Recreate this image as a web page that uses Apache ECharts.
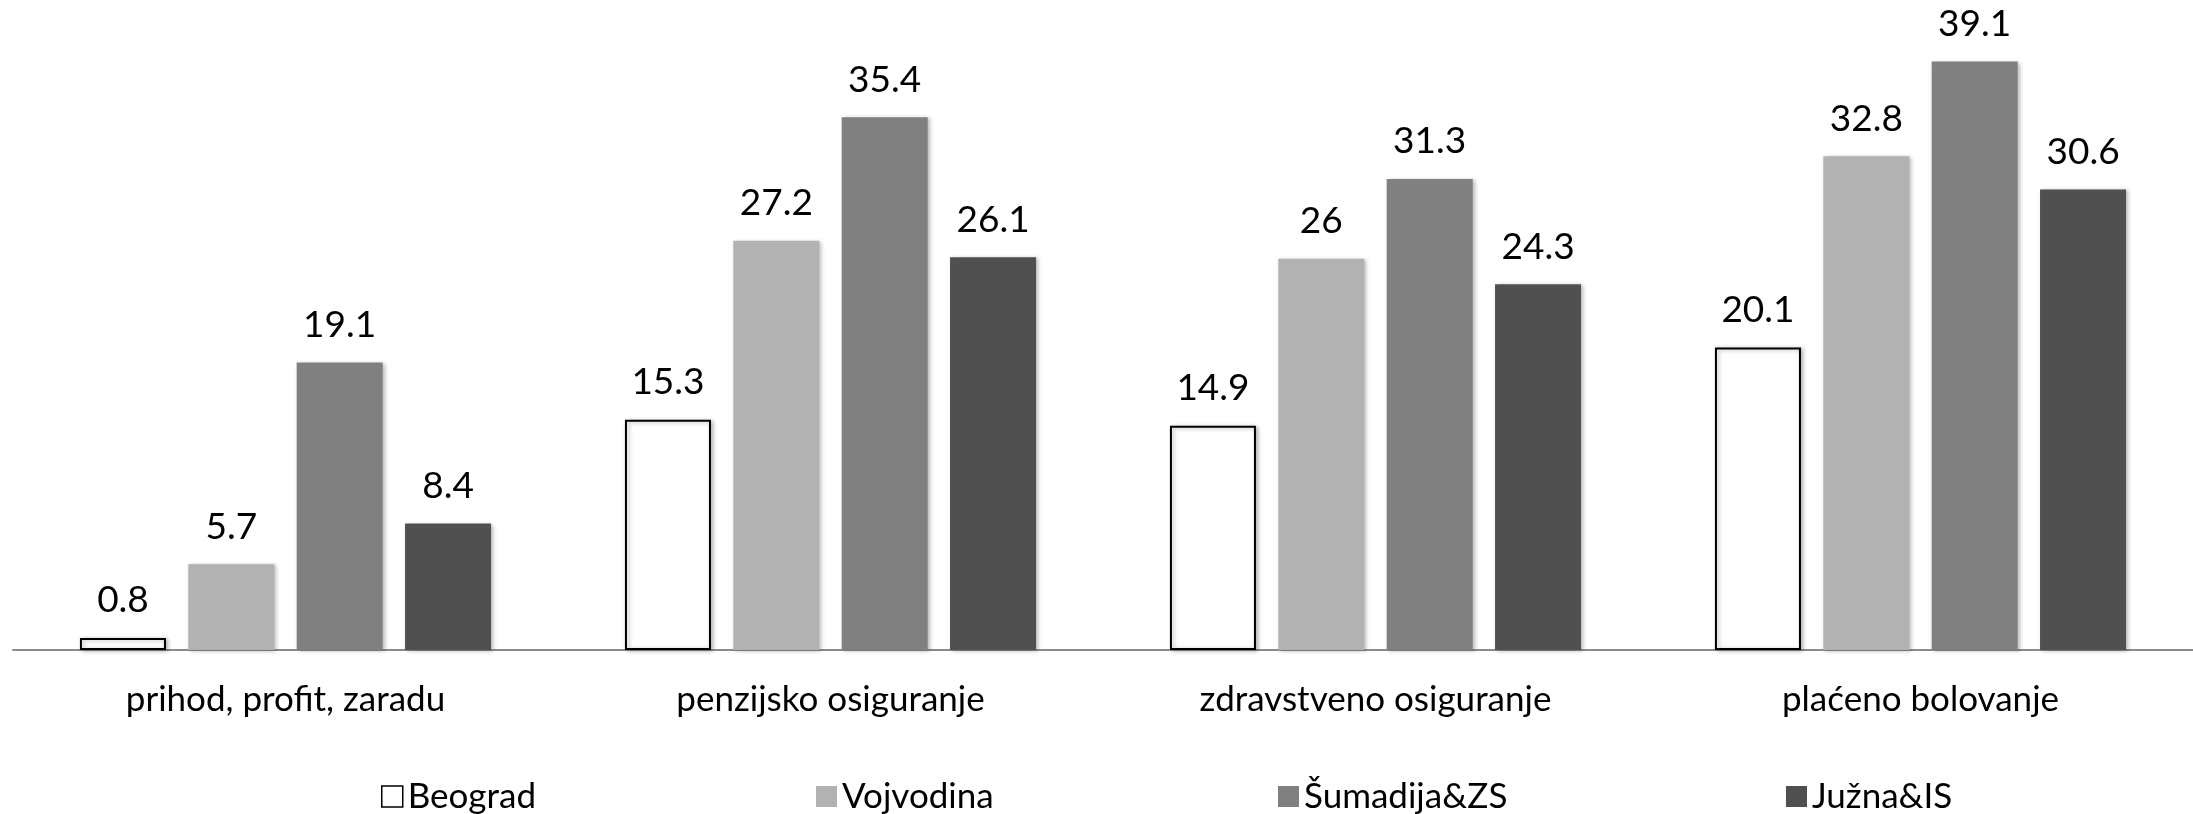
<!DOCTYPE html>
<html>
<head>
<meta charset="utf-8">
<script src="https://cdn.jsdelivr.net/npm/echarts@6/dist/echarts.min.js"></script>
<style>
html,body{margin:0;padding:0;background:#fff;}
#c{width:2193px;height:814px;}
</style>
</head>
<body>
<div id="c"></div>
<script>
const categories = ['prihod, profit, zaradu', 'penzijsko osiguranje', 'zdravstveno osiguranje', 'plaćeno bolovanje'];
const seriesNames = ['Beograd', 'Vojvodina', 'Šumadija&ZS', 'Južna&IS'];
const beograd = [0.8, 15.3, 14.9, 20.1];
const vojvodina = [5.7, 27.2, 26, 32.8];
const sumadija = [19.1, 35.4, 31.3, 39.1];
const juzna = [8.4, 26.1, 24.3, 30.6];

const values = [beograd, vojvodina, sumadija, juzna];
const fills = ['#FFFFFF', '#B2B2B2', '#808080', '#505050'];
const legendLeft = [381, 816, 1278, 1786];
const FONT = 'Lato, "Open Sans", sans-serif';

const chart = echarts.init(document.getElementById('c'), null, {renderer: 'canvas'});

const series = seriesNames.map((n, i) => ({
  name: n,
  type: 'bar',
  data: values[i],
  barWidth: 86,
  barGap: '26%',
  itemStyle: {
    color: fills[i],
    borderColor: i === 0 ? '#000000' : fills[i],
    borderWidth: i === 0 ? 2 : 0,
    shadowColor: 'rgba(0,0,0,0.28)',
    shadowBlur: 4,
    shadowOffsetX: 2,
    shadowOffsetY: 1
  },
  label: {
    show: true,
    position: 'top',
    distance: 19,
    color: '#000',
    fontFamily: FONT,
    fontSize: 37
  },
  emphasis: {disabled: true}
}));

const legends = seriesNames.map((n, i) => ({
  data: [n],
  left: legendLeft[i],
  top: 779,
  padding: 0,
  orient: 'horizontal',
  itemWidth: 21,
  itemHeight: 21,
  icon: 'rect',
  itemStyle: i === 0 ? {borderWidth: 1.5, borderColor: '#000', color: '#fff', shadowBlur: 0, shadowOffsetX: 0, shadowOffsetY: 0} : {shadowBlur: 0, shadowOffsetX: 0, shadowOffsetY: 0},
  textStyle: {fontFamily: FONT, fontSize: 35, color: '#000', padding: [0,0,0,0]},
  selectedMode: false
}));

chart.setOption({
  animation: false,
  backgroundColor: '#ffffff',
  grid: {left: 13, right: 0, top: 48, bottom: 164, containLabel: false},
  legend: legends,
  xAxis: {
    type: 'category',
    data: categories,
    axisLine: {show: true, lineStyle: {color: '#8C8C8C', width: 2}},
    axisTick: {show: false},
    axisLabel: {color: '#000', fontFamily: FONT, fontSize: 35, margin: 32}
  },
  yAxis: {
    type: 'value',
    min: 0,
    max: 40,
    interval: 10,
    show: false,
    splitLine: {show: false}
  },
  series: series
});
</script>
</body>
</html>
